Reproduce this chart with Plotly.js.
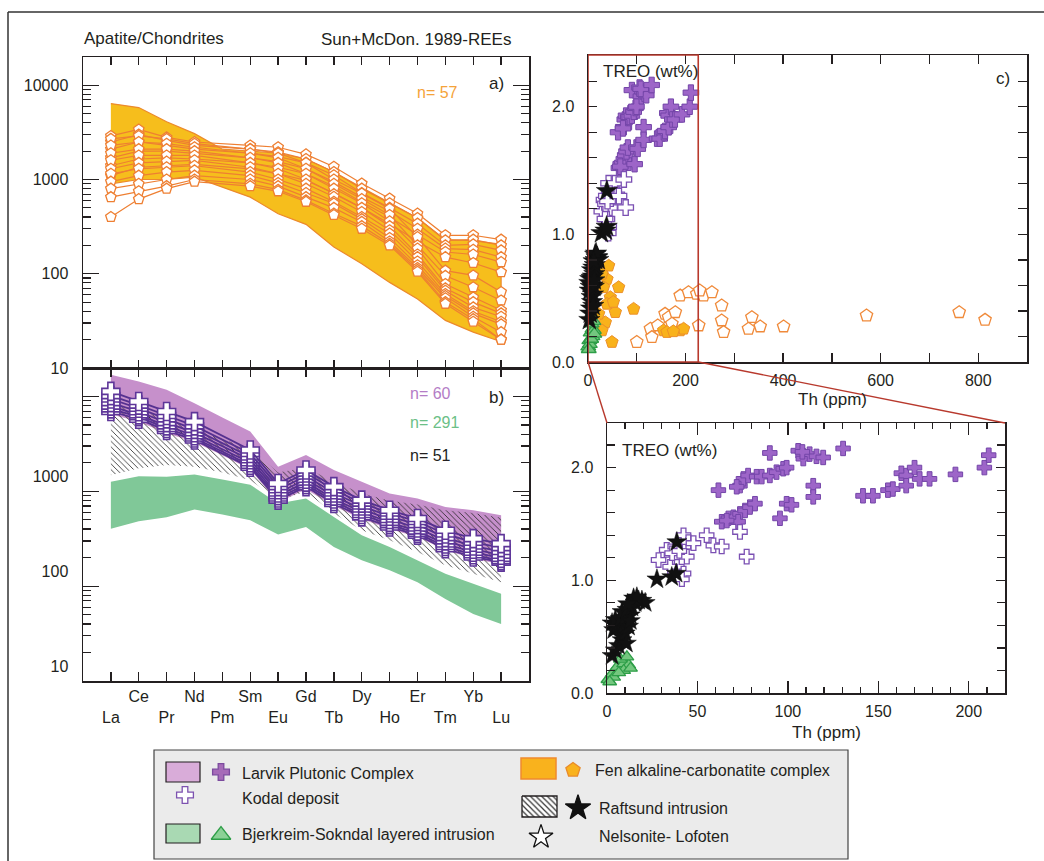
<!DOCTYPE html>
<html>
<head>
<meta charset="utf-8">
<script src="https://cdn.plot.ly/plotly-3.0.1.min.js"></script>
<style>
  html, body { margin: 0; padding: 0; background: #ffffff; }
  #chart { width: 1044px; height: 861px; }
</style>
</head>
<body>
<div id="chart"></div>
<script>
// ---------------- DATA ----------------
const REE = ['La','Ce','Pr','Nd','Pm','Sm','Eu','Gd','Tb','Dy','Ho','Er','Tm','Yb','Lu'];
const REE_NO_PM = ['La','Ce','Pr','Nd','Sm','Eu','Gd','Tb','Dy','Ho','Er','Tm','Yb','Lu'];

// Panel a) Fen alkaline-carbonatite complex, envelope (La..Lu incl. Pm)
const fenEnvUpper = [6400, 5800, 4100, 3070, 2100, 2000, 1900, 1650, 1200, 820, 560, 390, 230, 225, 205];
const fenEnvLower = [900, 1000, 1000, 1060, 830, 650, 433, 334, 192, 128, 81, 54, 32, 24, 19];

// Panel a) individual Fen apatite patterns (La..Lu without Pm)
const fen01 = [2900, 3400, 2800, 2500, 2300, 2200, 1850, 1365, 906, 628, 435, 256, 256, 230];
const fen02 = [2500, 3000, 2600, 2300, 2100, 1950, 1650, 1200, 800, 560, 390, 226, 230, 200];
const fen03 = [2100, 2500, 2300, 2100, 1900, 1750, 1500, 1110, 720, 500, 340, 200, 205, 177];
const fen04 = [1700, 2000, 2000, 1900, 1700, 1550, 1300, 944, 650, 460, 300, 185, 180, 150];
const fen05 = [1400, 1650, 1700, 1650, 1500, 1350, 1150, 850, 578, 401, 260, 170, 160, 133];
const fen06 = [1100, 1350, 1400, 1450, 1300, 1150, 980, 720, 500, 340, 220, 150, 130, 104];
const fen07 = [2700, 2900, 2700, 2400, 2100, 1900, 1500, 1000, 710, 491, 245, 108, 96, 64];
const fen08 = [2300, 2500, 2400, 2200, 1900, 1700, 1300, 900, 620, 420, 200, 95, 72, 52];
const fen09 = [1900, 2100, 2100, 2000, 1700, 1500, 1150, 800, 560, 360, 185, 78, 56, 41];
const fen10 = [1600, 1800, 1800, 1800, 1500, 1300, 1000, 700, 500, 320, 160, 70, 50, 38];
const fen11 = [1300, 1500, 1550, 1600, 1350, 1150, 900, 655, 453, 290, 150, 66, 44, 35];
const fen12 = [1150, 1300, 1350, 1400, 1200, 1000, 800, 580, 400, 267, 135, 61, 40, 31];
const fen13 = [950, 1100, 1200, 1250, 1100, 920, 720, 556, 380, 240, 123, 58, 38, 29];
const fen14 = [800, 900, 1000, 1100, 1000, 850, 650, 500, 355, 220, 115, 55, 35, 24];
const fen15 = [650, 750, 850, 1000, 900, 780, 600, 435, 320, 208, 110, 50, 33, 20];
const fen16 = [400, 620, 800, 950, 850, 750, 580, 420, 300, 200, 105, 48, 31, 20];
const fenSamples = [fen01, fen02, fen03, fen04, fen05, fen06, fen07, fen08,
                    fen09, fen10, fen11, fen12, fen13, fen14, fen15, fen16];

// Panel b) envelopes (La..Lu incl. Pm)
const larvikUpper = [16900, 14400, 11800, 8500, 6000, 4260, 1820, 2410, 1680, 1260, 950, 840, 685, 630, 560];
const larvikLower = [6500, 5400, 4100, 3300, 2400, 1700, 760, 1050, 700, 510, 400, 330, 240, 195, 170];
const raftsundUpper = [8490, 7230, 5750, 4470, 3550, 2820, 1580, 1780, 1260, 955, 794, 724, 631, 589, 525];
const raftsundLower = [1480, 1750, 1890, 1820, 1580, 1310, 807, 989, 582, 388, 304, 229, 166, 135, 110];
const bjerkUpper = [1260, 1440, 1420, 1500, 1330, 1175, 743, 840, 537, 344, 259, 187, 135, 106, 83];
const bjerkLower = [404, 483, 532, 641, 568, 495, 350, 421, 259, 187, 147, 110, 73, 51, 40];

// Panel b) Kodal deposit apatite patterns (La..Lu without Pm)
const kodal1 = [11300, 8850, 6940, 5430, 2730, 1210, 1680, 1120, 807, 632, 516, 388, 317, 281];
const kodal2 = [10200, 8100, 6300, 4900, 2500, 1120, 1560, 1040, 750, 590, 480, 355, 290, 255];
const kodal3 = [9400, 7500, 5800, 4500, 2300, 1040, 1450, 960, 700, 545, 445, 325, 265, 232];
const kodal4 = [8600, 6900, 5300, 4150, 2150, 960, 1340, 890, 650, 505, 410, 300, 245, 212];
const kodal5 = [7900, 6400, 4900, 3850, 2000, 900, 1250, 830, 605, 470, 380, 278, 228, 197];
const kodal6 = [7400, 6100, 4600, 3650, 1880, 850, 1180, 780, 570, 445, 360, 262, 214, 186];
const kodal7 = [6940, 5760, 4370, 3480, 1790, 807, 1120, 743, 537, 421, 344, 248, 203, 179];
const kodalSamples = [kodal7, kodal6, kodal5, kodal4, kodal3, kodal2, kodal1];

// Panel c) Th (ppm) vs TREO (wt%)
const larvikTh = [90, 105.7, 108.5, 112, 115.8, 119.5, 108, 130.5, 61.6, 73.5, 75.4, 78, 82.7, 85.5, 90, 93.7, 97.4, 99.3,
                  71.7, 63.4, 67.1, 69.9, 73.5, 76.3, 79, 81.8, 72.5, 66.2, 95.6, 99.3, 102, 114, 114, 141.5, 147,
                  155.3, 158, 162.7, 165.4, 165.4, 170, 172.8, 178.3, 192.6, 208.6, 211];
const larvikTREO = [2.13, 2.15, 2.08, 2.12, 2.1, 2.09, 2.14, 2.17, 1.8, 1.84, 1.9, 1.93, 1.92, 1.92, 1.93, 1.96, 1.99, 2.0,
                    1.83, 1.52, 1.55, 1.56, 1.59, 1.62, 1.65, 1.68, 1.52, 1.53, 1.55, 1.68, 1.67, 1.84, 1.74, 1.75, 1.75,
                    1.8, 1.81, 1.95, 1.93, 1.84, 2.0, 1.9, 1.9, 1.94, 2.0, 2.11];
const kodalTh = [28.5, 33, 37.7, 42.3, 45, 47.8, 44.1, 38.6, 42.3, 34.9, 41.4, 55.1, 58.8, 63.4, 73.5, 77.2, 36, 40];
const kodalTREO = [1.18, 1.27, 1.3, 1.4, 1.34, 1.33, 1.21, 1.12, 1.06, 1.12, 1.01, 1.4, 1.31, 1.3, 1.43, 1.21, 1.24, 1.26];
const raftsundTh = [2.8, 4.6, 6.4, 8.3, 7.4, 10.1, 3.7, 5.5, 9.2, 11.9, 2.8, 4.6, 7.4, 10.1, 12.9, 8.3, 11, 13.8,
                    15.6, 17.5, 19.3, 21.1, 14.7, 16.5, 11.4, 12.9, 10.7, 38.6, 27.6, 35.8, 38.2];
const raftsundTREO = [0.33, 0.38, 0.42, 0.47, 0.51, 0.53, 0.56, 0.59, 0.6, 0.59, 0.62, 0.65, 0.66, 0.67, 0.69, 0.72, 0.74, 0.76,
                      0.8, 0.82, 0.82, 0.8, 0.84, 0.85, 0.79, 0.64, 0.44, 1.34, 1.01, 1.03, 1.06];
const bjerkTh = [0.5, 2.8, 5.5, 9.2, 12, 7.4, 11, 3.7, 9.2, 1.5, 6.5, 13];
const bjerkTREO = [0.12, 0.17, 0.23, 0.26, 0.25, 0.3, 0.32, 0.14, 0.2, 0.1, 0.18, 0.22];
const fenFilledTh = [42.3, 38.9, 62.8, 45.7, 56, 35.5, 49.1, 93.5, 32, 38.9, 28.7, 21.8, 28.7, 155, 189, 196, 162, 175, 52];
const fenFilledTREO = [0.754, 0.65, 0.585, 0.507, 0.39, 0.31, 0.156, 0.416, 0.585, 0.455, 0.69, 0.377, 0.247, 0.247, 0.247, 0.26, 0.234, 0.24, 0.47];
const fenOpenTh = [100, 128, 131, 143, 158, 165, 179, 172, 189, 206, 223, 237, 229, 254, 274, 274, 278, 227, 329, 336, 353, 401, 571, 761, 814];
const fenOpenTREO = [0.156, 0.26, 0.195, 0.286, 0.377, 0.351, 0.39, 0.3, 0.52, 0.546, 0.533, 0.52, 0.56, 0.546, 0.442, 0.325, 0.234, 0.286, 0.26, 0.351, 0.278, 0.278, 0.364, 0.39, 0.33];

// Tick labels
const logTickVals = [10, 100, 1000, 10000];
const logTickTextA = ['10', '100', '1000', '10000'];
const logTickTextB = ['10', '100', '1000', ''];
const treoTickVals = [0, 1, 2];
const treoTickText = ['0.0', '1.0', '2.0'];
const thTickValsC = [0, 200, 400, 600, 800];
const thTickValsInset = [0, 50, 100, 150, 200];

// ---------------- LAYOUT HELPERS ----------------
const W = 1044, H = 861;
const px = v => v / W;
const py = v => 1 - v / H;
const INK = '#231f20';
const FONT = 'Liberation Sans, Arial, Helvetica, sans-serif';

const minorLog = [];
[10, 100, 1000, 10000].forEach(d => { for (let k = 2; k <= 9; k++) minorLog.push(d * k); });
const minorTreo = [0.2, 0.4, 0.6, 0.8, 1.2, 1.4, 1.6, 1.8, 2.2];
const minorThC = [100, 300, 500, 700];
const minorThInset = [];
for (let v = 10; v <= 210; v += 10) if (v % 50 !== 0) minorThInset.push(v);

const baseAxis = {
  showgrid: false, zeroline: false, showline: true, linecolor: INK, linewidth: 1.5,
  ticks: 'inside', tickcolor: INK, tickwidth: 1.3, mirror: 'ticks',
  tickfont: { family: FONT, size: 16, color: INK }, fixedrange: true
};
const ax = o => Object.assign({}, baseAxis, o);

// ---------------- TRACES ----------------
const traces = [];
const rev = a => a.slice().reverse();
const band = (up, lo, xa, ya, opts) => Object.assign({
  type: 'scatter', mode: 'lines', x: REE.concat(rev(REE)), y: up.concat(rev(lo)),
  fill: 'toself', xaxis: xa, yaxis: ya, hoverinfo: 'skip'
}, opts);

// Panel a
traces.push(band(fenEnvUpper, fenEnvLower, 'x', 'y',
  { fillcolor: '#F6BE1C', line: { color: '#EC8A2C', width: 1.2 } }));
fenSamples.forEach(s => traces.push({
  type: 'scatter', mode: 'lines+markers', x: REE_NO_PM, y: s, xaxis: 'x', yaxis: 'y',
  line: { color: '#EE7F32', width: 1.2 },
  marker: { symbol: 'pentagon', size: 11, color: '#ffffff', line: { color: '#EE7F32', width: 1.3 } },
  cliponaxis: false
}));

// Panel b
traces.push(band(larvikUpper, larvikLower, 'x2', 'y2',
  { fillcolor: '#C690CB', line: { width: 0, color: 'rgba(0,0,0,0)' } }));
traces.push(band(bjerkUpper, bjerkLower, 'x2', 'y2',
  { fillcolor: '#80C898', line: { width: 0, color: 'rgba(0,0,0,0)' } }));
traces.push(band(raftsundUpper, raftsundLower, 'x2', 'y2', {
  fillcolor: 'rgba(0,0,0,0)', line: { width: 0, color: 'rgba(0,0,0,0)' },
  fillpattern: { shape: '\\', fgcolor: '#222222', bgcolor: 'rgba(0,0,0,0)', size: 4, solidity: 0.2, fillmode: 'replace' }
}));
kodalSamples.forEach(s => traces.push({
  type: 'scatter', mode: 'lines+markers', x: REE_NO_PM, y: s, xaxis: 'x2', yaxis: 'y2',
  line: { color: '#553190', width: 1.8 },
  marker: { symbol: 'cross', size: 15, color: '#ffffff', line: { color: '#5E3699', width: 1.6 } },
  cliponaxis: false
}));

// Panel c and inset
function scatterSet(xa, ya, big, withFen) {
  const s = big ? 13 : 12;
  if (withFen) {
    traces.push({ type: 'scatter', mode: 'markers', x: fenOpenTh, y: fenOpenTREO, xaxis: xa, yaxis: ya, cliponaxis: false,
      marker: { symbol: 'pentagon', size: s, color: '#ffffff', line: { color: '#F08A3A', width: 1.3 } } });
    traces.push({ type: 'scatter', mode: 'markers', x: fenFilledTh, y: fenFilledTREO, xaxis: xa, yaxis: ya, cliponaxis: false,
      marker: { symbol: 'pentagon', size: s, color: '#F9B21B', line: { color: '#EC8F2A', width: 1 } } });
  }
  traces.push({ type: 'scatter', mode: 'markers', x: larvikTh, y: larvikTREO, xaxis: xa, yaxis: ya, cliponaxis: false,
    marker: { symbol: 'cross', size: s, color: '#9D65C8', line: { color: '#7345A8', width: 1 } } });
  traces.push({ type: 'scatter', mode: 'markers', x: kodalTh, y: kodalTREO, xaxis: xa, yaxis: ya, cliponaxis: false,
    marker: { symbol: 'cross', size: s, color: '#ffffff', line: { color: '#7B50B3', width: 1.3 } } });
  traces.push({ type: 'scatter', mode: 'markers', x: bjerkTh, y: bjerkTREO, xaxis: xa, yaxis: ya, cliponaxis: false,
    marker: { symbol: 'triangle-up', size: s, color: '#74C77F', line: { color: '#2E9E48', width: 1.3 } } });
  traces.push({ type: 'scatter', mode: 'markers', x: raftsundTh, y: raftsundTREO, xaxis: xa, yaxis: ya, cliponaxis: false,
    marker: { symbol: 'star', size: s + 3, color: '#111111', line: { color: '#111111', width: 0.5 } } });
}
scatterSet('x3', 'y3', true, true);
scatterSet('x4', 'y4', false, false);

// Legend key symbols (legend canvas in pixel units)
const legendAxis = { domain: [0, 1], visible: false, fixedrange: true };
traces.push({ type: 'scatter', mode: 'lines', x: [522, 557, 557, 522, 522], y: [796, 796, 817, 817, 796],
  xaxis: 'x5', yaxis: 'y5', fill: 'toself', fillcolor: 'rgba(0,0,0,0)', line: { color: INK, width: 1.3 },
  fillpattern: { shape: '\\', fgcolor: '#333333', bgcolor: '#ffffff', size: 4, solidity: 0.3, fillmode: 'replace' } });
const keyMarks = [
  { x: 221, y: 772, symbol: 'cross', size: 14, color: '#A66BB8', line: '#7B4A9E' },
  { x: 185, y: 795, symbol: 'cross', size: 14, color: '#ffffff', line: '#7D52B0' },
  { x: 221, y: 835, symbol: 'triangle-up', size: 17, color: '#8BD196', line: '#2E9E48' },
  { x: 573, y: 770, symbol: 'pentagon', size: 15, color: '#F9B21D', line: '#E98B2A' },
  { x: 578, y: 808, symbol: 'star', size: 19, color: '#111111', line: '#111111' },
  { x: 541, y: 837, symbol: 'star', size: 18, color: '#ffffff', line: '#111111' }
];
keyMarks.forEach(k => traces.push({ type: 'scatter', mode: 'markers', x: [k.x], y: [k.y], xaxis: 'x5', yaxis: 'y5',
  cliponaxis: false, marker: { symbol: k.symbol, size: k.size, color: k.color, line: { color: k.line, width: 1.3 } } }));

// ---------------- ANNOTATIONS ----------------
function txt(t, x, y, opt) {
  opt = opt || {};
  return { text: t, xref: 'paper', yref: 'paper', x: px(x), y: py(y), showarrow: false,
    xanchor: opt.anchor || 'left', yanchor: 'middle',
    font: { family: FONT, size: opt.size || 17, color: opt.color || INK } };
}
const annotations = [
  txt('Apatite/Chondrites', 82, 39),
  txt('Sun+McDon. 1989-REEs', 513, 40, { anchor: 'right' }),
  txt('n= 57', 415, 92, { color: '#F5A33A', size: 16 }),
  txt('a)', 487, 84),
  txt('n= 60', 408, 393, { color: '#B47CC6', size: 16 }),
  txt('n= 291', 408, 422, { color: '#6CBF87', size: 16 }),
  txt('n= 51', 408, 455, { color: INK, size: 16 }),
  txt('b)', 487, 397),
  txt('TREO (wt%)', 601, 72),
  txt('c)', 994, 78),
  txt('Th (ppm)', 832, 400, { anchor: 'center' }),
  txt('TREO (wt%)', 620, 450),
  txt('Th (ppm)', 826, 732, { anchor: 'center' }),
  txt('Larvik Plutonic Complex', 240, 773, { size: 16 }),
  txt('Kodal deposit', 240, 798, { size: 16 }),
  txt('Bjerkreim-Sokndal layered intrusion', 240, 834, { size: 16 }),
  txt('Fen alkaline-carbonatite complex', 593, 770, { size: 16 }),
  txt('Raftsund intrusion', 597, 808, { size: 16 }),
  txt('Nelsonite- Lofoten', 597, 836, { size: 16 })
];

// ---------------- SHAPES ----------------
const RED = '#B8392D';
function rectPx(x0, y0, x1, y1, o) {
  return Object.assign({ type: 'rect', xref: 'paper', yref: 'paper', x0: px(x0), x1: px(x1), y0: py(y0), y1: py(y1) }, o);
}
function linePx(x0, y0, x1, y1, o) {
  return Object.assign({ type: 'line', xref: 'paper', yref: 'paper', x0: px(x0), x1: px(x1), y0: py(y0), y1: py(y1) }, o);
}
const shapes = [
  // outer figure frame
  linePx(8, 12, 1044, 12, { line: { color: '#333', width: 1.5 }, layer: 'above' }),
  linePx(8, 12, 8, 861, { line: { color: '#333', width: 1.5 }, layer: 'above' }),
  // legend box and swatches
  rectPx(154, 750, 848, 859, { fillcolor: '#EBEBEB', line: { color: '#444', width: 1.2 }, layer: 'below' }),
  rectPx(166, 762, 200, 782, { fillcolor: '#D9ACD9', line: { color: INK, width: 1.2 }, layer: 'below' }),
  rectPx(166, 824, 200, 843, { fillcolor: '#A9D9B3', line: { color: INK, width: 1.2 }, layer: 'below' }),
  rectPx(521, 758, 556, 779, { fillcolor: '#F9B21D', line: { color: '#F08A2E', width: 1.5 }, layer: 'below' }),
  // zoom box in panel c and connector lines
  { type: 'rect', xref: 'x3', yref: 'y3 domain', x0: 0, x1: 226, y0: 0, y1: 1, line: { color: RED, width: 1.6 }, layer: 'above' },
  linePx(588, 362, 607, 423, { line: { color: RED, width: 1.4 }, layer: 'above' }),
  linePx(698.5, 362, 1005, 423, { line: { color: RED, width: 1.4 }, layer: 'above' })
];

// ---------------- AXES ----------------
const layout = {
  width: W, height: H, margin: { l: 0, r: 0, t: 0, b: 0 },
  paper_bgcolor: '#ffffff', plot_bgcolor: 'rgba(0,0,0,0)', showlegend: false,
  font: { family: FONT, size: 16, color: INK },
  xaxis: ax({ domain: [px(83), px(529)], anchor: 'y', type: 'category', categoryorder: 'array', categoryarray: REE,
    range: [-1, 15], tickmode: 'array', tickvals: REE, showticklabels: false, ticklen: 8 }),
  yaxis: ax({ domain: [py(368), py(57)], anchor: 'x', type: 'log', range: [1, 4.30], tickmode: 'array',
    tickvals: logTickVals, ticktext: logTickTextA, ticklen: 16, ticklabelstandoff: 10,
    minor: { tickmode: 'array', tickvals: minorLog, ticks: 'inside', ticklen: 8, tickwidth: 1.2, tickcolor: INK } }),
  xaxis2: ax({ domain: [px(83), px(529)], anchor: 'y2', type: 'category', categoryorder: 'array', categoryarray: REE,
    range: [-1, 15], tickmode: 'array', tickvals: REE,
    ticktext: REE.map((e, i) => (i % 2 === 1 ? e : '\u00a0<br>' + e)), ticklen: 9, ticklabelstandoff: 0 }),
  yaxis2: ax({ domain: [py(681), py(368)], anchor: 'x2', type: 'log', range: [1, 4.30], tickmode: 'array',
    tickvals: logTickVals, ticktext: logTickTextB, ticklen: 16, ticklabelstandoff: 10, ticklabelshift: -15,
    minor: { tickmode: 'array', tickvals: minorLog, ticks: 'inside', ticklen: 8, tickwidth: 1.2, tickcolor: INK } }),
  xaxis3: ax({ domain: [px(588), px(1027)], anchor: 'y3', range: [0, 900], tickmode: 'array', tickvals: thTickValsC,
    ticklen: 9, ticklabelstandoff: 3,
    minor: { tickmode: 'array', tickvals: minorThC, ticks: 'inside', ticklen: 9, tickwidth: 1.3, tickcolor: INK } }),
  yaxis3: ax({ domain: [py(362), py(55)], anchor: 'x3', range: [0, 2.405], tickmode: 'array', tickvals: treoTickVals,
    ticktext: treoTickText, ticklen: 9, ticklabelstandoff: 9,
    minor: { tickmode: 'array', tickvals: minorTreo, ticks: 'inside', ticklen: 9, tickwidth: 1.3, tickcolor: INK } }),
  xaxis4: ax({ domain: [px(607), px(1005)], anchor: 'y4', range: [0, 220], tickmode: 'array', tickvals: thTickValsInset,
    ticklen: 12, ticklabelstandoff: 3,
    minor: { tickmode: 'array', tickvals: minorThInset, ticks: 'inside', ticklen: 6, tickwidth: 1.2, tickcolor: INK } }),
  yaxis4: ax({ domain: [py(693), py(423)], anchor: 'x4', range: [0, 2.396], tickmode: 'array', tickvals: treoTickVals,
    ticktext: treoTickText, ticklen: 9, ticklabelstandoff: 9,
    minor: { tickmode: 'array', tickvals: minorTreo, ticks: 'inside', ticklen: 8, tickwidth: 1.2, tickcolor: INK } }),
  xaxis5: Object.assign({ anchor: 'y5', range: [0, W] }, legendAxis),
  yaxis5: Object.assign({ anchor: 'x5', range: [H, 0] }, legendAxis),
  annotations: annotations,
  shapes: shapes
};

Plotly.newPlot('chart', traces, layout, { displayModeBar: false, staticPlot: true });
</script>
</body>
</html>
